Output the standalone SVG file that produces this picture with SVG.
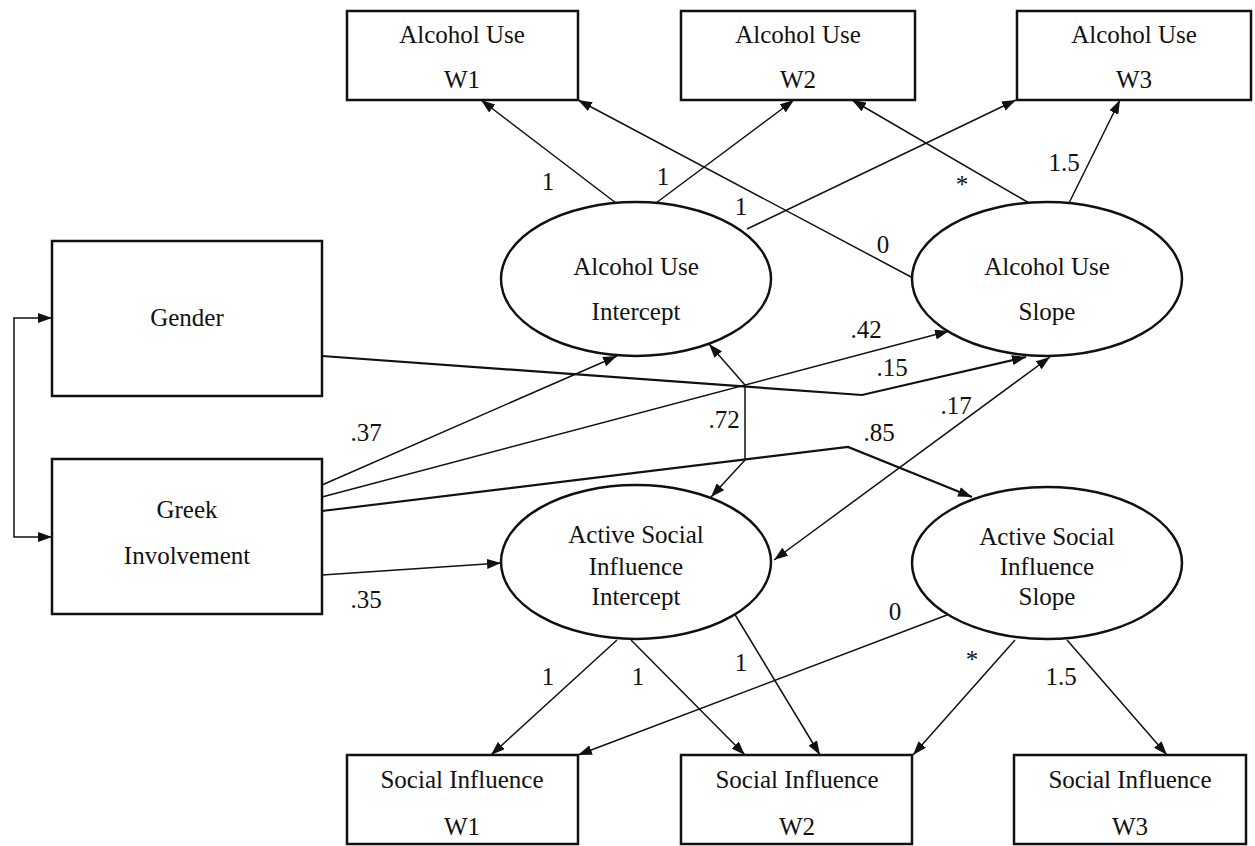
<svg xmlns="http://www.w3.org/2000/svg" width="1255" height="846" viewBox="0 0 1255 846">
<style>
text{font-family:"Liberation Serif","Times New Roman",serif;font-size:25px;fill:#111;text-anchor:middle}
.box{fill:#fff;stroke:#111;stroke-width:2.5}
.ell{fill:#fff;stroke:#111;stroke-width:2.5}
.c{fill:none;stroke:#111;stroke-width:1.5;marker-end:url(#ah)}
.thick{stroke-width:2.2}
.both{marker-start:url(#ah)}
</style>
<defs>
<marker id="ah" viewBox="0 0 14 10" refX="14" refY="5" markerWidth="14" markerHeight="10" markerUnits="userSpaceOnUse" orient="auto-start-reverse">
<path d="M0,0 L14,5 L0,10 z" fill="#111"/>
</marker>
</defs>
<rect width="1255" height="846" fill="#fff"/>
<g id="connectors">
<path class="c" d="M616,203 L481,100"/>
<path class="c" d="M656,203 L794,100"/>
<path class="c" d="M747,229 L1016,100"/>
<path class="c" d="M913,278 L578,100"/>
<path class="c" d="M1029,203 L852,100"/>
<path class="c" d="M1069,203 L1120,100"/>
<path class="c both" d="M52,318 L14,318 L14,537 L52,537"/>
<path class="c" d="M322,485 L617,356"/>
<path class="c" d="M322,497 L949,331"/>
<path class="c thick" d="M322,356 L862,395 L1026,357"/>
<path class="c thick" d="M322,511 L848,447 L972,497"/>
<path class="c both" d="M709,344 L745,385 L745,460 L711,497"/>
<path class="c both" d="M1050,357 L774,560"/>
<path class="c" d="M322,575 L501,563"/>
<path class="c" d="M617,640 L491,755"/>
<path class="c" d="M631,640 L745,755"/>
<path class="c" d="M734,613 L820,755"/>
<path class="c" d="M947,615 L578,755"/>
<path class="c" d="M1015,640 L913,755"/>
<path class="c" d="M1067,640 L1167,755"/>
</g>
<g id="labels">
<text x="548" y="190">1</text>
<text x="663" y="185">1</text>
<text x="741" y="215">1</text>
<text x="883" y="253">0</text>
<text x="962" y="193">*</text>
<text x="1064" y="171">1.5</text>
<text x="366" y="441">.37</text>
<text x="866" y="338">.42</text>
<text x="892" y="376">.15</text>
<text x="879" y="441">.85</text>
<text x="724" y="428">.72</text>
<text x="956" y="414">.17</text>
<text x="366" y="608">.35</text>
<text x="548" y="685">1</text>
<text x="638" y="685">1</text>
<text x="741" y="671">1</text>
<text x="895" y="620">0</text>
<text x="972" y="668">*</text>
<text x="1061" y="685">1.5</text>
</g>
<g id="au-w1"><rect class="box" x="347" y="11" width="231" height="89"/><text x="462" y="43">Alcohol Use</text><text x="462" y="88">W1</text></g>
<g id="au-w2"><rect class="box" x="681" y="11" width="234" height="89"/><text x="798" y="43">Alcohol Use</text><text x="798" y="88">W2</text></g>
<g id="au-w3"><rect class="box" x="1017" y="11" width="234" height="89"/><text x="1134" y="43">Alcohol Use</text><text x="1134" y="88">W3</text></g>
<g id="gender"><rect class="box" x="52" y="241" width="270" height="155"/><text x="187" y="326">Gender</text></g>
<g id="greek"><rect class="box" x="52" y="459" width="270" height="155"/><text x="187" y="518">Greek</text><text x="187" y="564">Involvement</text></g>
<g id="au-intercept"><ellipse class="ell" cx="636" cy="279" rx="135" ry="77"/><text x="636" y="275">Alcohol Use</text><text x="636" y="320">Intercept</text></g>
<g id="au-slope"><ellipse class="ell" cx="1047" cy="279" rx="135" ry="77"/><text x="1047" y="275">Alcohol Use</text><text x="1047" y="320">Slope</text></g>
<g id="asi-intercept"><ellipse class="ell" cx="636" cy="562" rx="135" ry="77"/><text x="636" y="543">Active Social</text><text x="636" y="575">Influence</text><text x="636" y="605">Intercept</text></g>
<g id="asi-slope"><ellipse class="ell" cx="1047" cy="563" rx="135" ry="76"/><text x="1047" y="545">Active Social</text><text x="1047" y="575">Influence</text><text x="1047" y="605">Slope</text></g>
<g id="si-w1"><rect class="box" x="347" y="755" width="231" height="89"/><text x="462" y="788">Social Influence</text><text x="462" y="835">W1</text></g>
<g id="si-w2"><rect class="box" x="681" y="755" width="231" height="89"/><text x="797" y="788">Social Influence</text><text x="797" y="835">W2</text></g>
<g id="si-w3"><rect class="box" x="1014" y="755" width="232" height="89"/><text x="1130" y="788">Social Influence</text><text x="1130" y="835">W3</text></g>
</svg>
